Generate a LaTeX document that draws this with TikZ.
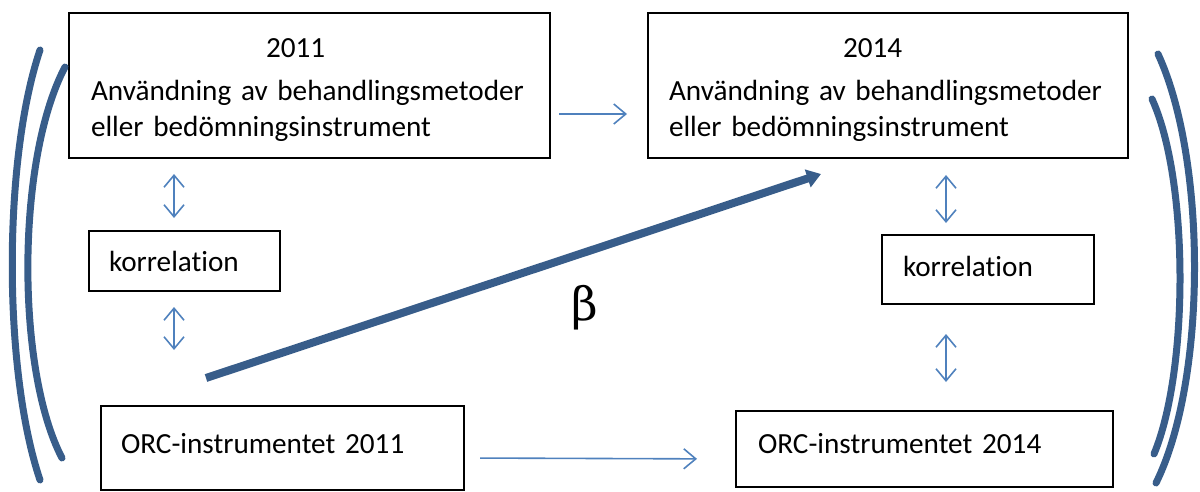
\documentclass[tikz,border=0pt]{standalone}
\usepackage{fontspec}
\setmainfont{Carlito}[Ligatures={NoCommon}]
\newfontfamily\betafont{DejaVu Serif}
\usetikzlibrary{arrows.meta}
\definecolor{thinblue}{HTML}{4F81BD}
\definecolor{darkblue}{HTML}{385D8A}
\tikzset{
 box/.style={draw=black, line width=1pt, anchor=north west, align=left, inner ysep=0pt, font=\fontsize{14.6}{17.8}\selectfont},
 thinarrow/.style={draw=thinblue, line width=0.8pt, -{Straight Barb[length=6pt,width=10pt]}},
 dblarrow/.style={draw=thinblue, line width=0.8pt, {Straight Barb[length=6pt,width=10pt]}-{Straight Barb[length=6pt,width=10pt]}},
 betaarrow/.style={draw=darkblue, line width=4pt, -{Triangle[length=7pt,width=9pt]}},
 bracket/.style={draw=darkblue, line width=3.5pt, line cap=round},
}
\begin{document}
\begin{tikzpicture}[x=0.5pt,y=-0.5pt]
\useasboundingbox (0,0) rectangle (1200,492);
% boxes
\node[box, inner xsep=11pt, text width=218.5pt, text height=22.5pt, text depth=50pt] (b1) at (68,12)
 {\hspace*{87.5pt}2011\\[3.7pt]Användning av behandlingsmetoder\\eller bedömningsinstrument};
\node[box, inner xsep=10.5pt, text width=219pt, text height=22.5pt, text depth=50pt] (b2) at (647,12)
 {\hspace*{87pt}2014\\[3.7pt]Användning av behandlingsmetoder\\eller bedömningsinstrument};
\node[box, inner xsep=10pt, text width=75.5pt, text height=20pt, text depth=10pt] (kl) at (88,230) {korrelation};
\node[box, inner xsep=10.5pt, text width=85pt, text height=20.5pt, text depth=14pt] (kr) at (881,234) {korrelation};
\node[box, inner xsep=10pt, text width=161.5pt, text height=23.5pt, text depth=18.5pt] (o1) at (100,405) {ORC-instrumentet 2011};
\node[box, inner xsep=11pt, text width=166.5pt, text height=21pt, text depth=17pt] (o2) at (735,410) {ORC-instrumentet 2014};
% beta
\node[inner sep=0pt] (beta) at (585,308) {\betafont\fontsize{23}{25}\selectfont β};
% horizontal arrows
\draw[thinarrow, shorten <=4pt, shorten >=10pt] ([yshift=-14.25pt]b1.east) -- ([yshift=-14.25pt]b2.west);
\draw[thinarrow, shorten <=7.5pt, shorten >=19pt] ([yshift=-5pt]o1.east) -- ([yshift=-5pt]o2.west);
% vertical double arrows
\draw[dblarrow, shorten <=6pt, shorten >=7.5pt] ([xshift=-5.25pt]kl.north) -- ([xshift=-5.25pt]kl.north |- b1.south);
\draw[dblarrow, shorten <=7.5pt, shorten >=27.5pt] ([xshift=-5.25pt]kl.south) -- ([xshift=-5.25pt]kl.south |- o1.north);
\draw[dblarrow, shorten <=5.5pt, shorten >=8pt] ([xshift=-21pt]kr.north) -- ([xshift=-21pt]kr.north |- b2.south);
\draw[dblarrow, shorten <=14.5pt, shorten >=14pt] ([xshift=-21pt]kr.south) -- ([xshift=-21pt]kr.south |- o2.north);
% beta arrow
\draw[betaarrow] ([xshift=-38.25pt,yshift=13.5pt]o1.north) -- ([xshift=-33.5pt,yshift=-7.5pt]b2.south);
% brackets
\draw[bracket] (40,50) .. controls (3,160) and (3,370) .. (40,480);
\draw[bracket] (65,67) .. controls (16,160) and (16,370) .. (62,458);
\draw[bracket] (1158,54) .. controls (1207,160) and (1207,380) .. (1156,483);
\draw[bracket] (1152,99) .. controls (1189,180) and (1189,370) .. (1154,454);
\end{tikzpicture}
\end{document}
